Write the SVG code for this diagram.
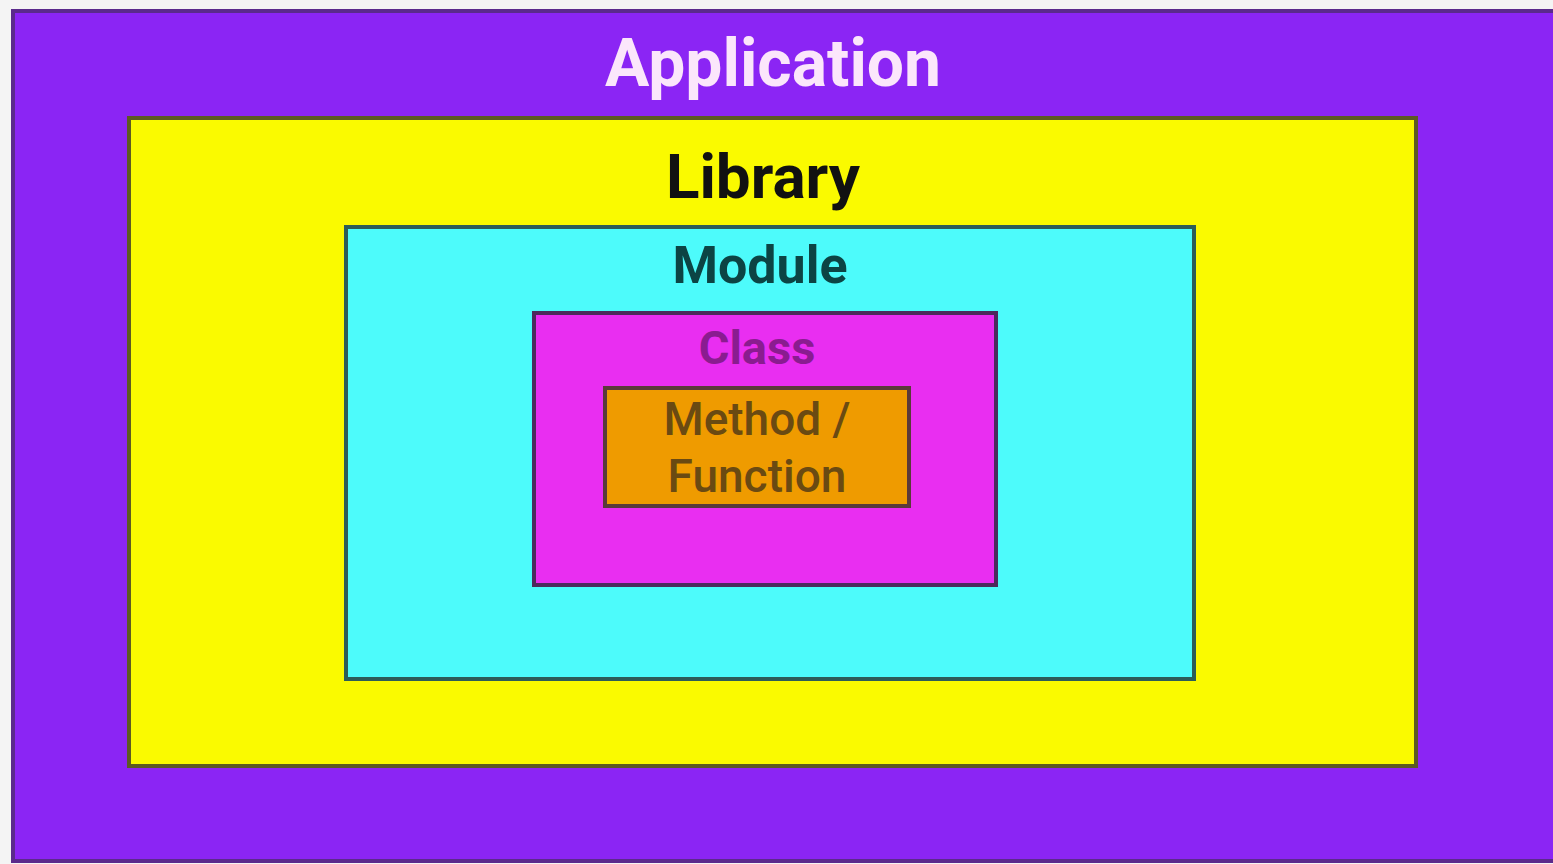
<svg xmlns="http://www.w3.org/2000/svg" width="1553" height="864" viewBox="0 0 1553 864">
  <style>
    .box { stroke-width: 4; }
    .lbl { font-family: Roboto, "Liberation Sans", sans-serif; text-anchor: middle; }
    .b { font-weight: 700; }
  </style>
  <rect x="0" y="0" width="1553" height="864" fill="#f4f4f4"/>
  <g id="application">
    <rect class="box" x="13" y="11" width="1542" height="850" fill="#8b25f4" stroke="#5b2a8c"/>
    <text class="lbl b" x="773" y="86" font-size="66" fill="#fbe6fb">Application</text>
  </g>
  <g id="library">
    <rect class="box" x="129" y="118" width="1287" height="648" fill="#fafa00" stroke="#5c5a22"/>
    <text class="lbl b" x="763" y="198" font-size="62" fill="#111">Library</text>
  </g>
  <g id="module">
    <rect class="box" x="346" y="227" width="848" height="452" fill="#4dfbfb" stroke="#2c5c58"/>
    <text class="lbl b" x="760" y="283" font-size="52" fill="#0c4444">Module</text>
  </g>
  <g id="class">
    <rect class="box" x="534" y="313" width="462" height="272" fill="#e92ef1" stroke="#4c2a5c"/>
    <text class="lbl b" x="757" y="364" font-size="47" fill="#8a1c90">Class</text>
  </g>
  <g id="method">
    <rect class="box" x="605" y="388" width="304" height="118" fill="#ef9b00" stroke="#5a3a3a"/>
    <text class="lbl" x="757" y="435" font-size="46" font-weight="500" fill="#6a4a12">Method /</text>
    <text class="lbl" x="757" y="492" font-size="46" font-weight="500" fill="#6a4a12">Function</text>
  </g>
  <g id="connectors"/>
</svg>
